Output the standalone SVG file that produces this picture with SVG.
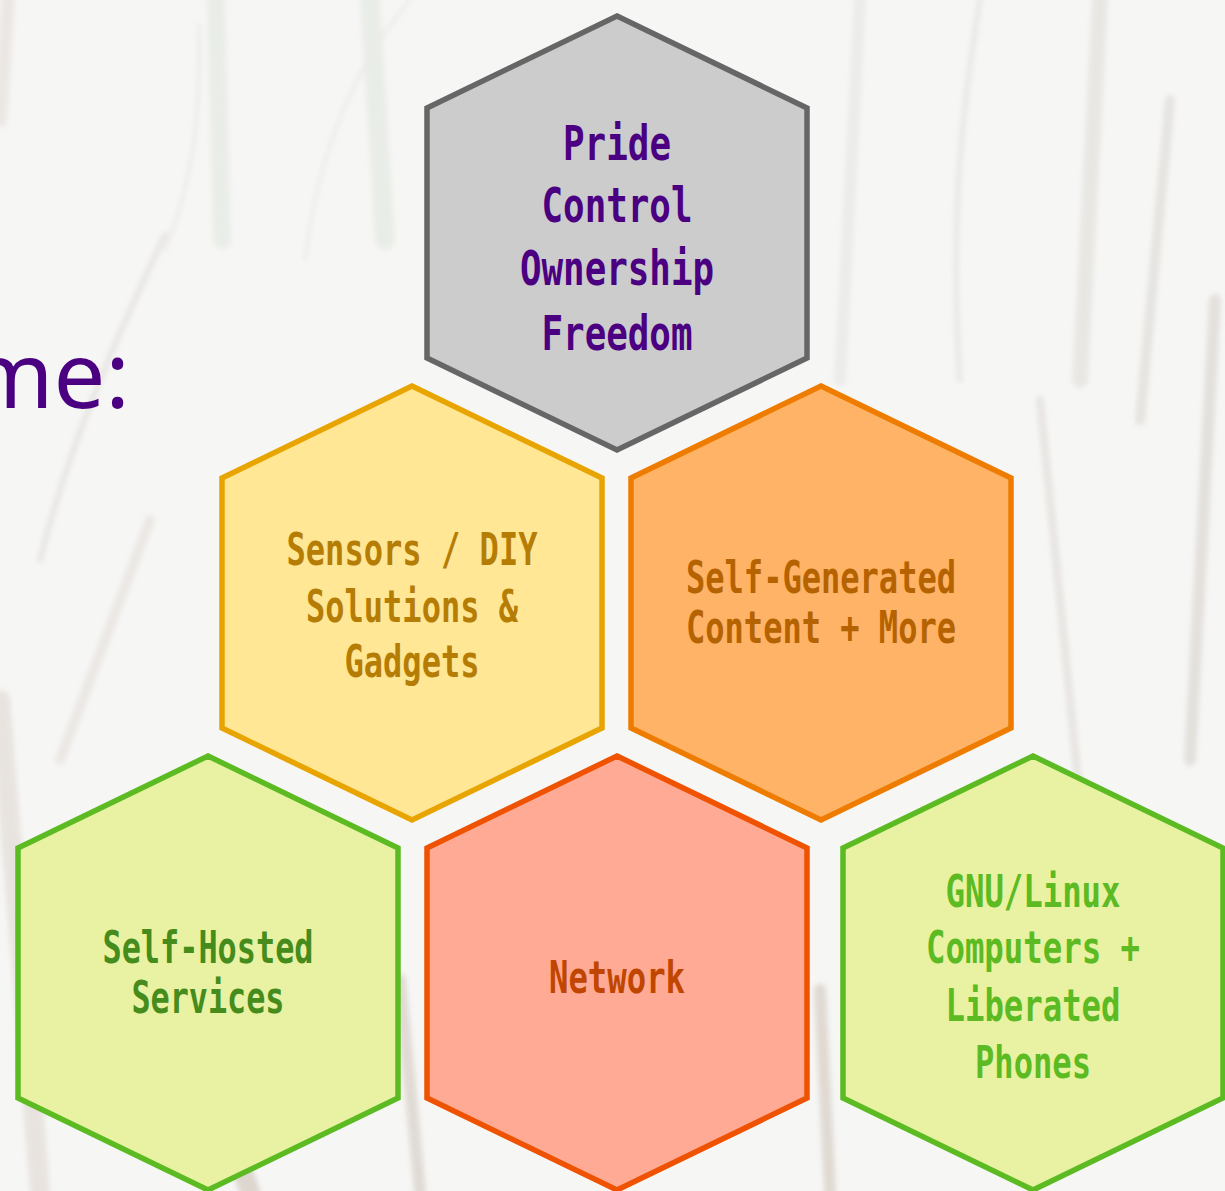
<svg xmlns="http://www.w3.org/2000/svg" width="1225" height="1191" viewBox="0 0 1225 1191">
<style>
.hex{stroke-width:5.5;stroke-linejoin:miter}
.t{font-family:"DejaVu Sans Mono","Liberation Mono",monospace;font-weight:bold;font-size:45px;text-anchor:middle}
.big{font-size:48px}
.title{font-family:"Noto Sans","Open Sans","DejaVu Sans",sans-serif;font-size:92px;fill:#4b0082}
</style>
<defs>
<polygon id="hx" points="0,-217 190,-125 190,125 0,217 -190,125 -190,-125"/>
<filter id="soft" x="-10%" y="-10%" width="120%" height="120%"><feGaussianBlur stdDeviation="2.5"/></filter>
</defs>
<rect width="1225" height="1191" fill="#f6f6f5"/>
<g id="background" fill="none" stroke-linecap="round" filter="url(#soft)" opacity="0.55">
<path d="M8,0 L0,120" stroke="#e2dbd6" stroke-width="14"/>
<path d="M216,0 L222,240" stroke="#e0e6dc" stroke-width="18"/>
<path d="M199,25 C202,120 190,190 165,250" stroke="#dedddb" stroke-width="3"/>
<path d="M370,0 L385,240" stroke="#e0e6dc" stroke-width="20"/>
<path d="M410,0 C360,60 320,140 305,260" stroke="#e0e0de" stroke-width="3"/>
<path d="M165,235 C120,330 70,440 40,560" stroke="#ddd9d5" stroke-width="6"/>
<path d="M150,520 L60,760" stroke="#e2dbd6" stroke-width="10"/>
<path d="M860,0 L840,380" stroke="#e3e3df" stroke-width="12"/>
<path d="M980,0 C960,120 950,230 960,380" stroke="#e0ded9" stroke-width="6"/>
<path d="M1100,0 L1080,380" stroke="#dedbd4" stroke-width="16"/>
<path d="M1170,100 L1140,420" stroke="#d9d5cf" stroke-width="10"/>
<path d="M1215,300 L1190,760" stroke="#d4cfc8" stroke-width="12"/>
<path d="M1040,400 L1080,800" stroke="#dcd7d0" stroke-width="8"/>
<path d="M0,700 L40,1191" stroke="#ddd5cd" stroke-width="20"/>
<path d="M400,980 L420,1191" stroke="#cfc5ba" stroke-width="12"/>
<path d="M820,990 L830,1191" stroke="#cdc2b6" stroke-width="12"/>
<path d="M230,1140 L250,1191" stroke="#c9bdaf" stroke-width="20"/>
</g>
<g id="title">
<text class="title" x="130" y="408" text-anchor="end">me:</text>
</g>
<g id="connectors"/>
<g id="node-top">
<use href="#hx" x="617" y="233" class="hex" fill="#cccccc" stroke="#666666"/>
<g class="t big" fill="#4b0082">
<text x="617" y="160" textLength="108" lengthAdjust="spacingAndGlyphs">Pride</text>
<text x="617" y="222" textLength="151" lengthAdjust="spacingAndGlyphs">Control</text>
<text x="617" y="285" textLength="194" lengthAdjust="spacingAndGlyphs">Ownership</text>
<text x="617" y="350" textLength="151" lengthAdjust="spacingAndGlyphs">Freedom</text>
</g>
</g>
<g id="node-sensors">
<use href="#hx" x="412" y="603" class="hex" fill="#ffe796" stroke="#e8a400"/>
<g class="t" fill="#b67d05">
<text x="412" y="565" textLength="251" lengthAdjust="spacingAndGlyphs">Sensors / DIY</text>
<text x="412" y="622" textLength="212" lengthAdjust="spacingAndGlyphs">Solutions &amp;</text>
<text x="412" y="677" textLength="135" lengthAdjust="spacingAndGlyphs">Gadgets</text>
</g>
</g>
<g id="node-content">
<use href="#hx" x="821" y="603" class="hex" fill="#ffb366" stroke="#ee7c00"/>
<g class="t" fill="#b56300">
<text x="821" y="593" textLength="270" lengthAdjust="spacingAndGlyphs">Self-Generated</text>
<text x="821" y="643" textLength="270" lengthAdjust="spacingAndGlyphs">Content + More</text>
</g>
</g>
<g id="node-selfhosted">
<use href="#hx" x="208" y="973" class="hex" fill="#e8f2a2" stroke="#5cba22"/>
<g class="t" fill="#458c1c">
<text x="208" y="963" textLength="211" lengthAdjust="spacingAndGlyphs">Self-Hosted</text>
<text x="208" y="1013" textLength="153" lengthAdjust="spacingAndGlyphs">Services</text>
</g>
</g>
<g id="node-network">
<use href="#hx" x="617" y="973" class="hex" fill="#ffaa94" stroke="#ef5200"/>
<g class="t" fill="#c04600">
<text x="617" y="993" textLength="136" lengthAdjust="spacingAndGlyphs">Network</text>
</g>
</g>
<g id="node-gnu">
<use href="#hx" x="1033" y="973" class="hex" fill="#e8f2a2" stroke="#5cba22"/>
<g class="t" fill="#5cba22">
<text x="1033" y="907" textLength="175" lengthAdjust="spacingAndGlyphs">GNU/Linux</text>
<text x="1033" y="963" textLength="214" lengthAdjust="spacingAndGlyphs">Computers +</text>
<text x="1033" y="1021" textLength="175" lengthAdjust="spacingAndGlyphs">Liberated</text>
<text x="1033" y="1078" textLength="116" lengthAdjust="spacingAndGlyphs">Phones</text>
</g>
</g>
</svg>
